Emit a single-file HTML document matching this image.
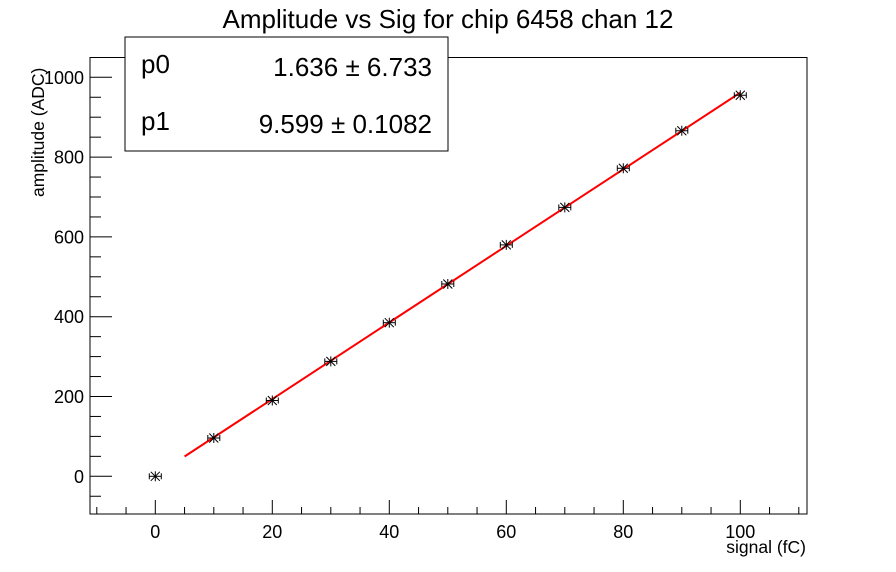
<!DOCTYPE html>
<html><head><style>body{margin:0;background:#fff}svg{display:block}</style></head><body>
<svg width="896" height="572" xmlns="http://www.w3.org/2000/svg" font-family="Liberation Sans, Arial, sans-serif">
<rect width="896" height="572" fill="#fff"/>
<text x="448" y="28" font-size="26" text-anchor="middle">Amplitude vs Sig for chip 6458 chan 12</text>
<rect x="90" y="57.5" width="717" height="456.5" fill="none" stroke="#000" stroke-width="1"/>
<g id="ax" stroke="#000" stroke-width="1"></g>
<g id="lab" font-size="18"></g>
<text x="806" y="553" font-size="17.5" text-anchor="end">signal (fC)</text>
<text transform="translate(44,197) rotate(-90)" font-size="17.5" text-anchor="start">amplitude (ADC)</text>
<g id="fit"></g>
<g id="pts" stroke="#000" stroke-width="1" fill="none"></g>
<rect x="125" y="37" width="323" height="114" fill="#fff" stroke="#000" stroke-width="1"/>
<text x="141" y="73" font-size="26">p0</text>
<text x="432" y="76" font-size="26" text-anchor="end">1.636 ± 6.733</text>
<text x="141" y="130" font-size="26">p1</text>
<text x="432" y="133" font-size="26" text-anchor="end">9.599 ± 0.1082</text>
<script>
var ns="http://www.w3.org/2000/svg";
function X(v){return 155.3+v*5.85}function Y(v){return 476.3-v*0.399}
function el(p,t,a){var e=document.createElementNS(ns,t);for(var k in a)e.setAttribute(k,a[k]);document.getElementById(p).appendChild(e);return e}
for(var v=-10;v<=110;v+=5){var x=X(v),L=(v%20==0)?14:7;el("ax","line",{x1:x,y1:514,x2:x,y2:514-L});
if(v%20==0&&v>=0){var t=el("lab","text",{x:x,y:538,"text-anchor":"middle"});t.textContent=v;}}
for(var v=-50;v<=1000;v+=50){var y=Y(v),L=(v%200==0)?22:11;el("ax","line",{x1:90,y1:y,x2:90+L,y2:y});
if(v%200==0){var t=el("lab","text",{x:84,y:y+6.5,"text-anchor":"end"});t.textContent=v;}}
el("fit","line",{x1:X(5),y1:Y(1.636+9.599*5),x2:X(100),y2:Y(1.636+959.9),stroke:"#f00","stroke-width":2});
var d=[[0,0],[10,96],[20,190],[30,288],[40,385],[50,482],[60,580],[70,674],[80,772],[90,866],[100,955]];
d.forEach(function(p){var x=X(p[0]),y=Y(p[1]);
el("pts","line",{x1:x-6,y1:y,x2:x+6,y2:y});el("pts","line",{x1:x-6,y1:y-3,x2:x-6,y2:y+3});el("pts","line",{x1:x+6,y1:y-3,x2:x+6,y2:y+3});
el("pts","line",{x1:x,y1:y-5,x2:x,y2:y+5});el("pts","line",{x1:x-4.5,y1:y-4.5,x2:x+4.5,y2:y+4.5});el("pts","line",{x1:x-4.5,y1:y+4.5,x2:x+4.5,y2:y-4.5});});
</script>
</svg>
</body></html>
